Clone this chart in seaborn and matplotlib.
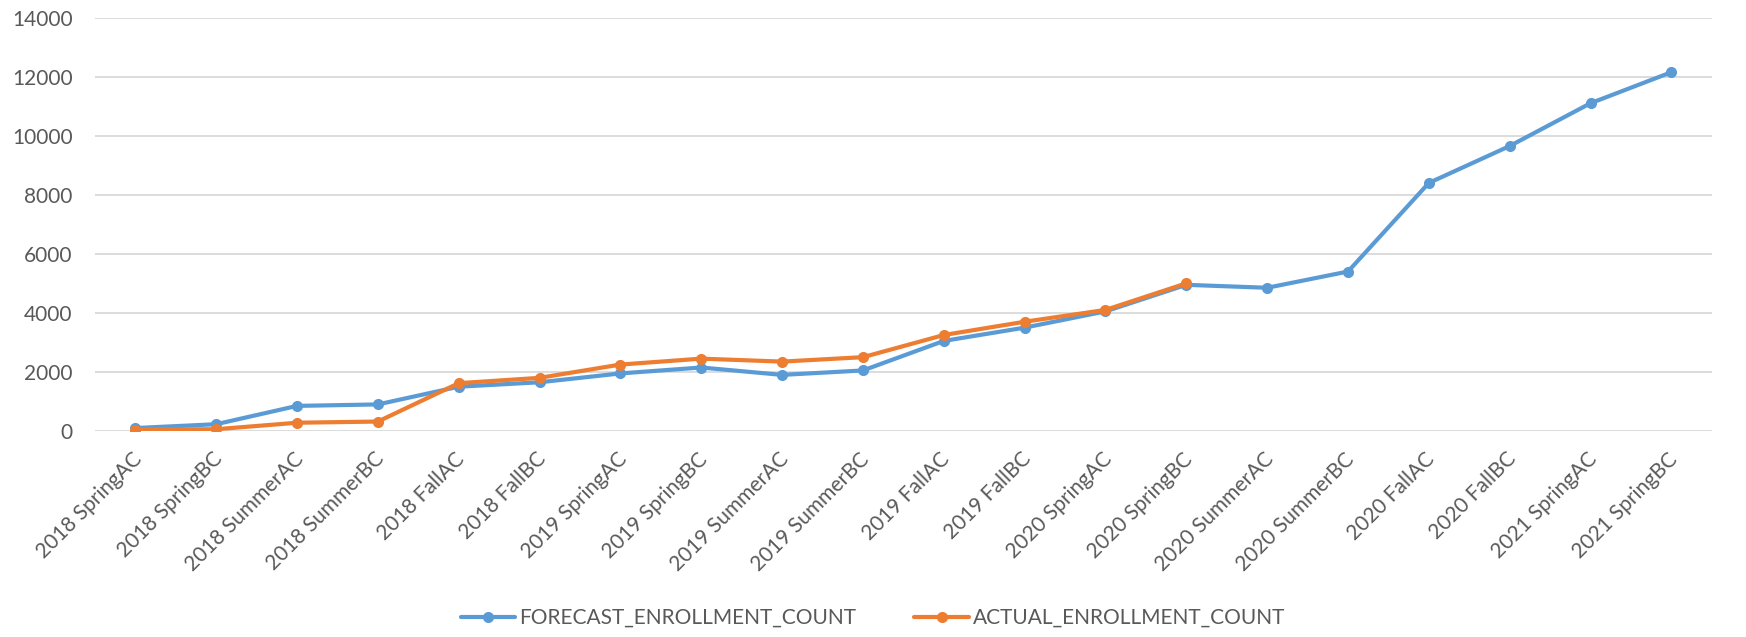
import numpy as np
import pandas as pd
import matplotlib
matplotlib.use('Agg')
import matplotlib.pyplot as plt
import matplotlib.transforms as mtransforms
import seaborn as sns

# 学期标签
periods = ['2018 SpringAC', '2018 SpringBC', '2018 SummerAC', '2018 SummerBC',
           '2018 FallAC', '2018 FallBC', '2019 SpringAC', '2019 SpringBC',
           '2019 SummerAC', '2019 SummerBC', '2019 FallAC', '2019 FallBC',
           '2020 SpringAC', '2020 SpringBC', '2020 SummerAC', '2020 SummerBC',
           '2020 FallAC', '2020 FallBC', '2021 SpringAC', '2021 SpringBC']

forecast = [100, 230, 850, 900, 1500, 1650, 1950, 2150, 1900, 2050,
            3050, 3500, 4050, 4950, 4850, 5400, 8400, 9650, 11100, 12150]

actual = [50, 60, 280, 320, 1620, 1800, 2250, 2450, 2350, 2500,
          3250, 3700, 4100, 5000, np.nan, np.nan, np.nan, np.nan, np.nan, np.nan]

series_names = ['FORECAST_ENROLLMENT_COUNT', 'ACTUAL_ENROLLMENT_COUNT']

# 整理成长表
df = pd.DataFrame({
    'period': periods * 2,
    'count': forecast + actual,
    'series': [series_names[0]] * len(periods) + [series_names[1]] * len(periods),
})
df['pos'] = list(range(len(periods))) * 2
df = df.dropna()

sns.set_theme(style='white')
plt.rcParams['font.family'] = ['Lato', 'DejaVu Sans']

fig = plt.figure(figsize=(17.46, 6.37), dpi=100)
ax = fig.add_axes([0.0544, 0.3234, 0.926, 0.649])

palette = {series_names[0]: '#5B9BD5', series_names[1]: '#ED7D31'}
sns.lineplot(data=df, x='pos', y='count', hue='series', palette=palette,
             marker='o', markersize=8, markeredgewidth=0, linewidth=3,
             sort=False, ax=ax)

ax.set_xlim(-0.5, len(periods) - 0.5)
ax.set_ylim(0, 14000)
ax.set_yticks(range(0, 14001, 2000))
ax.set_xticks(range(len(periods)))
ax.set_xticklabels(periods, rotation=45, ha='right', va='center',
                   rotation_mode='anchor')
ax.tick_params(axis='both', labelsize=15, colors='#595959', length=0)
ax.tick_params(axis='x', pad=18)
ax.tick_params(axis='y', pad=16)
# 标签稍微向右挪一点
offset = mtransforms.ScaledTranslation(3 / 100, 0, fig.dpi_scale_trans)
for lab in ax.get_xticklabels():
    lab.set_transform(lab.get_transform() + offset)

ax.yaxis.grid(True, color='#D9D9D9', linewidth=1.3)
ax.set_axisbelow(True)
for s in ax.spines.values():
    s.set_visible(False)
ax.set_xlabel('')
ax.set_ylabel('')

handles, labels = ax.get_legend_handles_labels()
ax.legend(handles, labels, loc='center', bbox_to_anchor=(0.5, 0.03),
          bbox_transform=fig.transFigure, ncol=2, frameon=False,
          fontsize=15, labelcolor='#595959', columnspacing=2.8,
          handlelength=2.6, handletextpad=0.2)

plt.savefig('out.png', dpi=100)
